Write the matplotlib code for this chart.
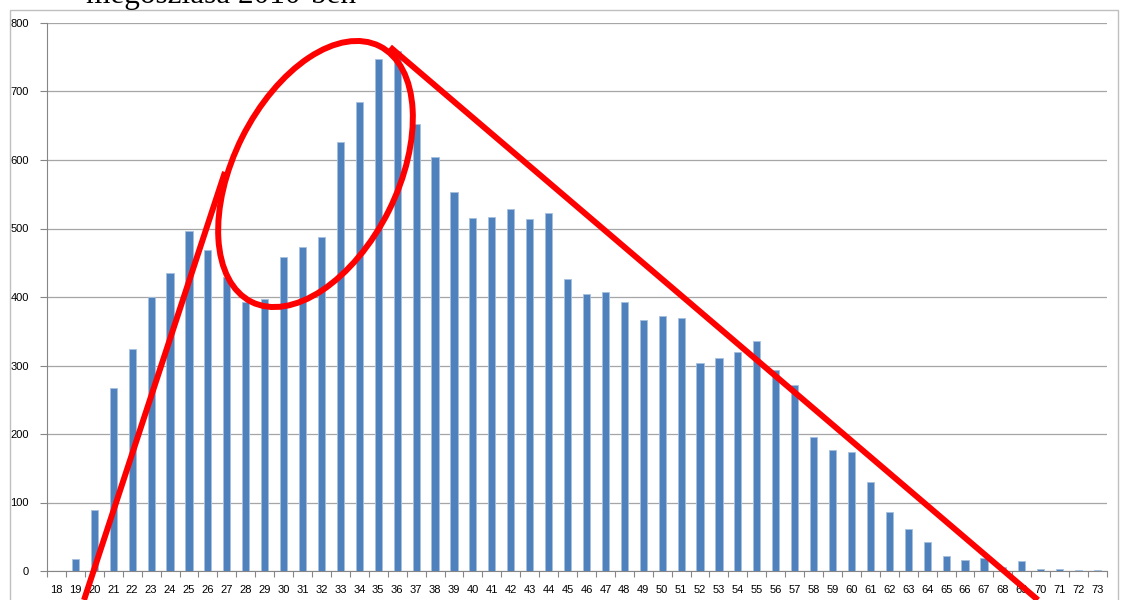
import numpy as np
import matplotlib.pyplot as plt
from matplotlib.patches import Ellipse, Rectangle

# Életkor szerinti megoszlás (2010)
ages = list(range(18, 74))
counts = [0, 18, 89, 267, 324, 400, 435, 496, 469, 429,
          392, 397, 458, 473, 487, 626, 684, 747, 759, 652,
          604, 554, 516, 517, 529, 514, 523, 426, 405, 408,
          393, 367, 372, 369, 304, 311, 320, 336, 294, 272,
          196, 176, 174, 130, 86, 61, 42, 22, 16, 19,
          6, 14, 3, 3, 2, 1]
y_ticks = list(range(0, 801, 100))

# kézi piros jelölések (képpont, a kép bal alsó sarkától)
line_up = ([84, 225], [0, 428])
line_down = ([390, 1038], [553, 0])
ellipse_center = (315.5, 426)
ellipse_size = (286, 164)
ellipse_angle = 63.4

W, H = 1124, 600
fig = plt.figure(figsize=(W / 100, H / 100), dpi=100)
plt.rcParams['font.family'] = ['Liberation Sans', 'DejaVu Sans']

# chart keret
fig.patches.append(Rectangle((10 / W, -0.1), 1108 / W, (H - 10) / H + 0.1,
                             transform=fig.transFigure, fill=False,
                             edgecolor='#BFBFBF', linewidth=1.0))

# a cím nagy része lemaradt a képről, csak az alja látszik
fig.text(86 / W, 1 - 3 / H, "megoszlása 2010-ben", family='Liberation Serif',
         fontsize=22.5, ha='left', va='baseline', color='black')

ax = fig.add_axes([47 / W, 29 / H, 1060 / W, 548 / H])
x = np.arange(len(ages))
ax.bar(x, counts, width=0.38, color='#4F81BD', edgecolor='#A7C0DE',
       linewidth=0.6, zorder=3)

ax.set_xlim(-0.5, len(ages) - 0.5)
ax.set_ylim(0, 800)
ax.set_yticks(y_ticks)
ax.set_xticks(x)
ax.set_xticklabels([str(a) for a in ages])
ax.set_xticks(np.arange(-0.5, len(ages), 1.0), minor=True)
ax.tick_params(axis='x', which='major', length=0, labelsize=8, pad=10)
ax.tick_params(axis='x', which='minor', length=4, color='#868686', width=0.8)
ax.tick_params(axis='y', length=5, color='#868686', width=0.8, labelsize=8, pad=8)
ax.grid(axis='y', color='#A6A6A6', linewidth=0.9, zorder=0)
for s in ['top', 'right']:
    ax.spines[s].set_visible(False)
for s in ['left', 'bottom']:
    ax.spines[s].set_color('#868686')
    ax.spines[s].set_linewidth(0.8)

# piros rajz réteg
ov = fig.add_axes([0, 0, 1, 1], zorder=10)
ov.set_xlim(0, W)
ov.set_ylim(0, H)
ov.axis('off')
ov.patch.set_alpha(0)
ov.plot(*line_up, color='#FF0000', linewidth=4.3, solid_capstyle='butt')
ov.plot(*line_down, color='#FF0000', linewidth=4.3, solid_capstyle='butt')
ov.add_patch(Ellipse(ellipse_center, *ellipse_size, angle=ellipse_angle,
                     fill=False, edgecolor='#FF0000', linewidth=4.3))

fig.savefig("out.png", dpi=100)
